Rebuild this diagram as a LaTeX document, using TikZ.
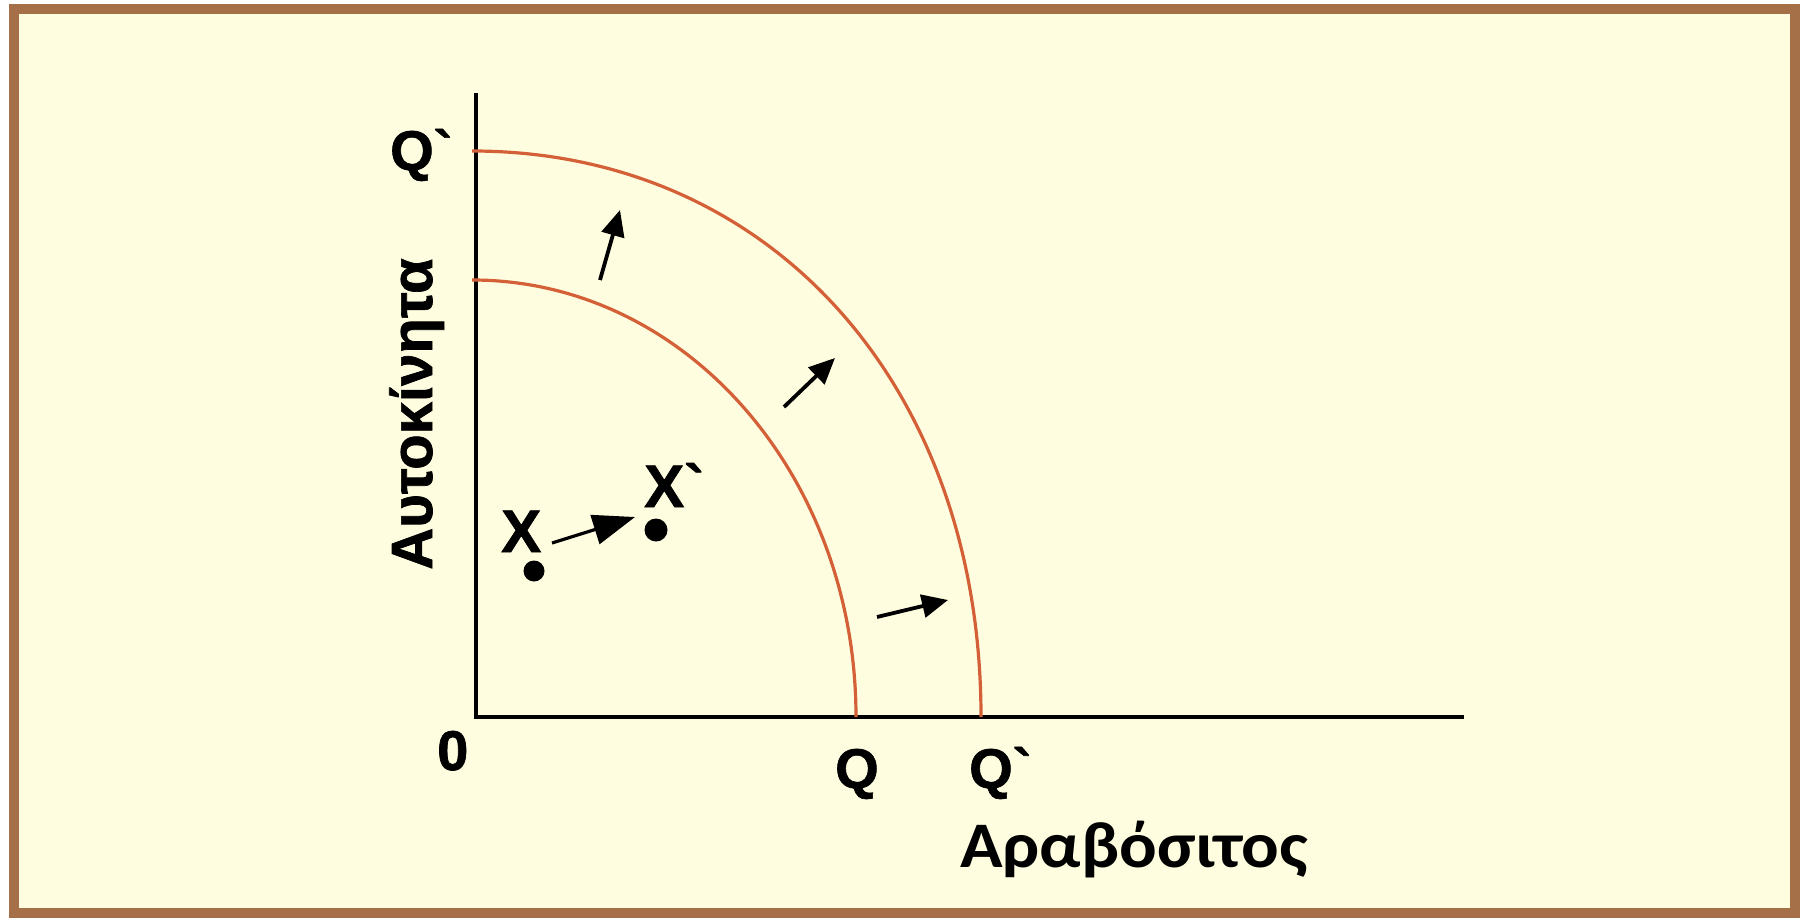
\documentclass[tikz,border=0pt]{standalone}
\usepackage{fontspec}
\newfontfamily\arialf{Liberation Sans}[BoldFeatures={FakeBold=1.2}]
\newfontfamily\carl{Carlito}[FakeStretch=1.08]
\usetikzlibrary{arrows.meta}
\definecolor{bgc}{RGB}{255,253,224}
\definecolor{framec}{RGB}{165,112,72}
\definecolor{curvec}{RGB}{212,96,56}
\begin{document}
\begin{tikzpicture}[x=1pt,y=-1pt,
  lbl/.style={inner sep=0pt, text=black, font=\arialf\bfseries\fontsize{56}{60}\selectfont},
  xlbl/.style={inner sep=0pt, text=black, font=\arialf\bfseries\fontsize{60}{64}\selectfont},
  shiftarrow/.style={line width=3.8pt, -{Triangle[length=26pt,width=23pt]}},
  bigarrow/.style={line width=3.2pt, -{Triangle[length=42pt,width=30pt]}},
  ppf/.style={curvec, line width=3.2pt},
  dotpt/.style={circle, fill=black, inner sep=0pt, minimum size=#1}]
\useasboundingbox (0,0) rectangle (1802,918);
\fill[white] (0,0) rectangle (1802,918);
\draw[framec, line width=10pt, fill=bgc] (14,9) rectangle (1795,913);

% axes
\coordinate (O) at (476,717);
\coordinate (ytop) at (476,93);
\coordinate (xstart) at (474,717);
\coordinate (xend) at (1464,717);
\draw[line width=3.5pt] (ytop) -- (O);
\draw[line width=4.5pt] (xstart) -- (xend);

% production possibility frontiers
\coordinate (i0) at (472,280);
\coordinate (i1) at (856,717);
\draw[ppf] (i0) .. controls (686,280) and (856,476) .. (i1);
\coordinate (o0) at (472,151);
\coordinate (o1) at (981,717);
\draw[ppf] (o0) .. controls (771,151) and (981,386) .. (o1);

% shift arrows
\coordinate (a1s) at (600,280); \coordinate (a1e) at (620,210);
\coordinate (a2s) at (784,407); \coordinate (a2e) at (835,358);
\coordinate (a3s) at (877,617); \coordinate (a3e) at (948,600);
\draw[shiftarrow] (a1s) -- (a1e);
\draw[shiftarrow] (a2s) -- (a2e);
\draw[shiftarrow] (a3s) -- (a3e);

% points
\node[dotpt=21pt] (x) at (534,571) {};
\node[dotpt=23pt] (xp) at (656,530) {};
\coordinate (xs) at (552,543); \coordinate (xe) at (635,517);
\draw[bigarrow] (xs) -- (xe);

% labels
\node[lbl, anchor=base west] (qtop) at (390,170) {Q`};
\node[lbl, anchor=base west] (zero) at (437,770) {0};
\node[lbl, anchor=base west] (qa) at (835,788) {Q};
\node[lbl, anchor=base west] (qb) at (969,788) {Q`};
\node[xlbl, anchor=base west] (xl) at (501,552) {X};
\node[xlbl, anchor=base west] (xpl) at (644,507) {X`};
\node[lbl, rotate=90, anchor=base, font=\arialf\bfseries\fontsize{58}{62}\selectfont] (yl) at (432,414) {Αυτοκίνητα};
\node[anchor=base west, inner sep=0pt, text=black, font=\carl\bfseries\fontsize{65}{70}\selectfont] (xtitle) at (960,867) {Αραβόσιτος};
\end{tikzpicture}
\end{document}
